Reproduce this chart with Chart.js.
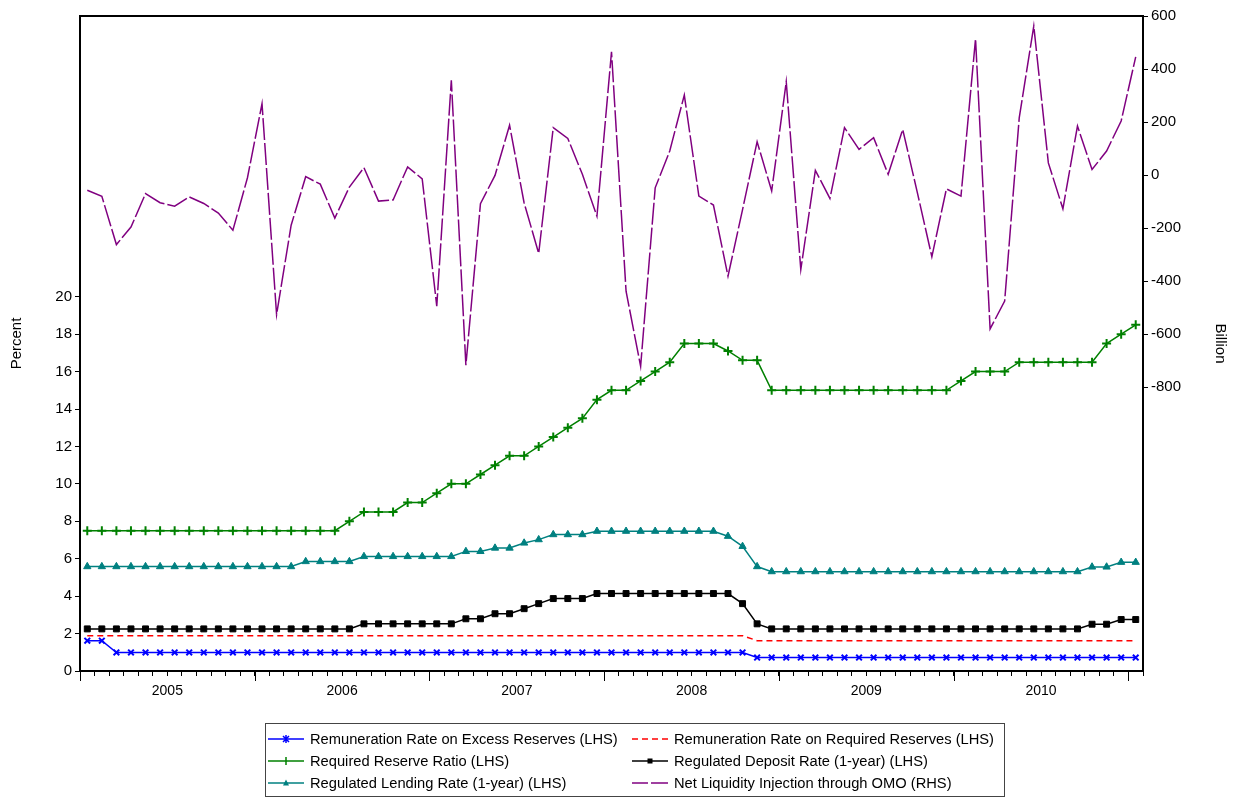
<!DOCTYPE html>
<html>
<head>
<meta charset="utf-8">
<script src="https://cdn.jsdelivr.net/npm/chart.js@4.4.0/dist/chart.umd.min.js"></script>
<style>
html, body { margin: 0; padding: 0; background: #fff; }
#wrap { position: relative; width: 1237px; height: 799px; }
#legend { position: absolute; left: 265px; top: 723px; width: 740px; height: 74px; border: 1.5px solid #444; box-sizing: border-box; font-family: "Liberation Sans", Arial, sans-serif; font-size: 14.7px; color: #000; }
.item { position: absolute; height: 20px; display: flex; align-items: center; white-space: nowrap; }
.item svg { margin-right: 6px; }
</style>
</head>
<body>
<div id="wrap">
  <canvas id="Grafico" width="1237" height="799"></canvas>
  <div id="legend"></div>
</div>
<script>
// anos exibidos no eixo x (dados mensais jan/2005 - jan/2011)
var anos = [2005, 2006, 2007, 2008, 2009, 2010, 2011];
var meses = [];
anos.forEach(function (a) {
    for (var m = 1; m <= 12; m++) {
        if (a === 2011 && m > 1) break;
        meses.push(a + 'M' + (m < 10 ? '0' + m : m));
    }
});

// series (LHS, percent)
var excessReserves = [
    1.62, 1.62, 0.99, 0.99, 0.99, 0.99, 0.99, 0.99, 0.99, 0.99, 0.99, 0.99,
    0.99, 0.99, 0.99, 0.99, 0.99, 0.99, 0.99, 0.99, 0.99, 0.99, 0.99, 0.99,
    0.99, 0.99, 0.99, 0.99, 0.99, 0.99, 0.99, 0.99, 0.99, 0.99, 0.99, 0.99,
    0.99, 0.99, 0.99, 0.99, 0.99, 0.99, 0.99, 0.99, 0.99, 0.99, 0.72, 0.72,
    0.72, 0.72, 0.72, 0.72, 0.72, 0.72, 0.72, 0.72, 0.72, 0.72, 0.72, 0.72,
    0.72, 0.72, 0.72, 0.72, 0.72, 0.72, 0.72, 0.72, 0.72, 0.72, 0.72, 0.72,
    0.72
];
var requiredReserves = [
    1.89, 1.89, 1.89, 1.89, 1.89, 1.89, 1.89, 1.89, 1.89, 1.89, 1.89, 1.89,
    1.89, 1.89, 1.89, 1.89, 1.89, 1.89, 1.89, 1.89, 1.89, 1.89, 1.89, 1.89,
    1.89, 1.89, 1.89, 1.89, 1.89, 1.89, 1.89, 1.89, 1.89, 1.89, 1.89, 1.89,
    1.89, 1.89, 1.89, 1.89, 1.89, 1.89, 1.89, 1.89, 1.89, 1.89, 1.62, 1.62,
    1.62, 1.62, 1.62, 1.62, 1.62, 1.62, 1.62, 1.62, 1.62, 1.62, 1.62, 1.62,
    1.62, 1.62, 1.62, 1.62, 1.62, 1.62, 1.62, 1.62, 1.62, 1.62, 1.62, 1.62,
    1.62
];
var reserveRatio = [
    7.5, 7.5, 7.5, 7.5, 7.5, 7.5, 7.5, 7.5, 7.5, 7.5, 7.5, 7.5,
    7.5, 7.5, 7.5, 7.5, 7.5, 7.5, 8.0, 8.5, 8.5, 8.5, 9.0, 9.0,
    9.5, 10.0, 10.0, 10.5, 11.0, 11.5, 11.5, 12.0, 12.5, 13.0, 13.5, 14.5,
    15.0, 15.0, 15.5, 16.0, 16.5, 17.5, 17.5, 17.5, 17.1, 16.6, 16.6, 15.0,
    15.0, 15.0, 15.0, 15.0, 15.0, 15.0, 15.0, 15.0, 15.0, 15.0, 15.0, 15.0,
    15.5, 16.0, 16.0, 16.0, 16.5, 16.5, 16.5, 16.5, 16.5, 16.5, 17.5, 18.0,
    18.5
];
var depositRate = [
    2.25, 2.25, 2.25, 2.25, 2.25, 2.25, 2.25, 2.25, 2.25, 2.25, 2.25, 2.25,
    2.25, 2.25, 2.25, 2.25, 2.25, 2.25, 2.25, 2.52, 2.52, 2.52, 2.52, 2.52,
    2.52, 2.52, 2.79, 2.79, 3.06, 3.06, 3.33, 3.60, 3.87, 3.87, 3.87, 4.14,
    4.14, 4.14, 4.14, 4.14, 4.14, 4.14, 4.14, 4.14, 4.14, 3.60, 2.52, 2.25,
    2.25, 2.25, 2.25, 2.25, 2.25, 2.25, 2.25, 2.25, 2.25, 2.25, 2.25, 2.25,
    2.25, 2.25, 2.25, 2.25, 2.25, 2.25, 2.25, 2.25, 2.25, 2.50, 2.50, 2.75,
    2.75
];
var lendingRate = [
    5.58, 5.58, 5.58, 5.58, 5.58, 5.58, 5.58, 5.58, 5.58, 5.58, 5.58, 5.58,
    5.58, 5.58, 5.58, 5.85, 5.85, 5.85, 5.85, 6.12, 6.12, 6.12, 6.12, 6.12,
    6.12, 6.12, 6.39, 6.39, 6.57, 6.57, 6.84, 7.02, 7.29, 7.29, 7.29, 7.47,
    7.47, 7.47, 7.47, 7.47, 7.47, 7.47, 7.47, 7.47, 7.20, 6.66, 5.58, 5.31,
    5.31, 5.31, 5.31, 5.31, 5.31, 5.31, 5.31, 5.31, 5.31, 5.31, 5.31, 5.31,
    5.31, 5.31, 5.31, 5.31, 5.31, 5.31, 5.31, 5.31, 5.31, 5.56, 5.56, 5.81,
    5.81
];
// RHS, billion
var liquidezOMO = [
    -57, -80, -262, -196, -70, -104, -117, -82, -107, -143, -208, -10,
    269, -526, -189, -6, -34, -162, -45, 28, -98, -94, 31, -14,
    -494, 358, -717, -108, -1, 188, -105, -295, 179, 138, 3, -155,
    465, -438, -721, -48, 91, 302, -79, -113, -381, -130, 126, -60,
    352, -356, 18, -88, 179, 97, 141, 3, 172, -65, -308, -52,
    -79, 514, -580, -475, 216, 562, 46, -127, 185, 21, 91, 204,
    446
];

var leftTicks = [0, 20];
var rightTicks = [-800, 600];

function pontos(serie) {
    return serie.map(function (v, i) { return { x: i, y: v }; });
}

var series = [
    { label: 'Remuneration Rate on Excess Reserves (LHS)', data: excessReserves, cor: '#0000ff', estilo: 'crossRot', raio: 4, dash: [], eixo: 'y' },
    { label: 'Remuneration Rate on Required Reserves (LHS)', data: requiredReserves, cor: '#ff0000', estilo: false, raio: 0, dash: [6, 4], eixo: 'y' },
    { label: 'Required Reserve Ratio (LHS)', data: reserveRatio, cor: '#008000', estilo: 'cross', raio: 4.5, dash: [], eixo: 'y' },
    { label: 'Regulated Deposit Rate (1-year) (LHS)', data: depositRate, cor: '#000000', estilo: 'rect', raio: 4.2, dash: [], eixo: 'y' },
    { label: 'Regulated Lending Rate (1-year) (LHS)', data: lendingRate, cor: '#008080', estilo: 'triangle', raio: 4.2, dash: [], eixo: 'y' },
    { label: 'Net Liquidity Injection through OMO (RHS)', data: liquidezOMO, cor: '#800080', estilo: false, raio: 0, dash: [22, 3], eixo: 'y1' }
];

var moldura = {
    id: 'moldura',
    afterDraw: function (chart) {
        var ctx = chart.ctx, a = chart.chartArea, xs = chart.scales.x;
        ctx.save();
        ctx.strokeStyle = '#000';
        ctx.lineWidth = 2;
        ctx.strokeRect(a.left, a.top, a.right - a.left, a.bottom - a.top);
        ctx.lineWidth = 1;
        for (var k = 0; k <= 6; k++) {
            var px = Math.round(xs.getPixelForValue(12 * k - 0.5)) + 0.5;
            ctx.beginPath();
            ctx.moveTo(px, a.bottom);
            ctx.lineTo(px, a.bottom + 10);
            ctx.stroke();
        }
        ctx.restore();
    }
};

var fonte = { family: '"Liberation Sans", Arial, sans-serif', size: 15 };

var ctx = document.getElementById('Grafico').getContext('2d');
var meuGrafico = new Chart(ctx, {
    type: 'line',
    data: {
        labels: meses,
        datasets: series.map(function (s) {
            return {
                label: s.label,
                data: pontos(s.data),
                yAxisID: s.eixo,
                borderColor: s.cor,
                backgroundColor: s.cor,
                borderWidth: 1.5,
                borderDash: s.dash,
                pointStyle: s.estilo,
                pointRadius: s.raio,
                pointBorderWidth: s.estilo === 'cross' || s.estilo === 'crossRot' ? 2 : 1,
                pointBorderColor: s.cor,
                pointBackgroundColor: s.cor,
                tension: 0,
                fill: false
            };
        })
    },
    plugins: [moldura],
    options: {
        responsive: false,
        animation: false,
        layout: { padding: { top: 16, right: 0, bottom: 88, left: 0 } },
        plugins: { legend: { display: false }, tooltip: { enabled: false } },
        scales: {
            x: {
                type: 'linear',
                min: -0.5,
                max: 72.5,
                afterFit: function (s) { s.height = 40; },
                afterBuildTicks: function (s) {
                    var t = [];
                    for (var k = 0; k <= 73; k++) t.push({ value: k - 0.5 });
                    s.ticks = t;
                },
                grid: { drawOnChartArea: false, tickLength: 5, color: '#000', lineWidth: 1 },
                border: { color: '#000', width: 2 },
                ticks: {
                    autoSkip: false,
                    maxRotation: 0,
                    padding: 7,
                    color: '#000',
                    font: { family: fonte.family, size: 14 },
                    callback: function (v) {
                        var n = Math.round(v + 0.5);
                        if (n % 12 === 6) return String(anos[(n - 6) / 12]);
                        return '';
                    }
                }
            },
            y: {
                position: 'left',
                min: 0,
                max: 35,
                afterFit: function (s) { s.width = 80; },
                grid: {
                    drawOnChartArea: false, tickLength: 5,
                    color: function (c) { return c.tick && c.tick.value <= leftTicks[1] ? '#000' : 'rgba(0,0,0,0)'; }
                },
                border: { color: '#000', width: 2 },
                ticks: {
                    stepSize: 2,
                    padding: 3,
                    color: '#000',
                    font: fonte,
                    callback: function (v) { return v >= leftTicks[0] && v <= leftTicks[1] ? String(v) : ''; }
                },
                title: { display: true, text: 'Percent', color: '#000', font: fonte, padding: { top: 8, bottom: 4 } }
            },
            y1: {
                position: 'right',
                min: -1870,
                max: 600,
                afterFit: function (s) { s.width = 94; },
                grid: {
                    drawOnChartArea: false, tickLength: 5,
                    color: function (c) { return c.tick && c.tick.value >= rightTicks[0] && c.tick.value % 200 === 0 ? '#000' : 'rgba(0,0,0,0)'; }
                },
                border: { color: '#000', width: 2 },
                ticks: {
                    stepSize: 200,
                    padding: 3,
                    color: '#000',
                    font: fonte,
                    callback: function (v) { return v >= rightTicks[0] && v <= rightTicks[1] && v % 200 === 0 ? String(v) : ''; }
                },
                title: { display: true, text: 'Billion', color: '#000', font: fonte, padding: { top: 8, bottom: 10 } }
            }
        }
    }
});

// legenda em HTML (caixa com 3 linhas x 2 colunas)
function amostra(s) {
    var svg = '<svg width="36" height="12" viewBox="0 0 36 12">';
    if (s.dash.length && s.estilo === false && s.cor === '#800080') {
        svg += '<line x1="0" y1="6" x2="16" y2="6" stroke="' + s.cor + '" stroke-width="1.5"/><line x1="19" y1="6" x2="36" y2="6" stroke="' + s.cor + '" stroke-width="1.5"/>';
    } else if (s.dash.length) {
        svg += '<line x1="0" y1="6" x2="36" y2="6" stroke="' + s.cor + '" stroke-width="1.5" stroke-dasharray="6,4"/>';
    } else {
        svg += '<line x1="0" y1="6" x2="36" y2="6" stroke="' + s.cor + '" stroke-width="1.5"/>';
    }
    if (s.estilo === 'crossRot') svg += '<path d="M15 3L21 9M21 3L15 9M18 2L18 10" stroke="' + s.cor + '" stroke-width="1.5"/>';
    if (s.estilo === 'cross') svg += '<path d="M18 2L18 10" stroke="' + s.cor + '" stroke-width="1.5"/>';
    if (s.estilo === 'rect') svg += '<rect x="15.5" y="3.5" width="5" height="5" fill="' + s.cor + '"/>';
    if (s.estilo === 'triangle') svg += '<path d="M18 2.5L21 8.5L15 8.5Z" fill="' + s.cor + '"/>';
    return svg + '</svg>';
}
var legenda = document.getElementById('legend');
series.forEach(function (s, i) {
    var col = i % 2, lin = Math.floor(i / 2);
    var d = document.createElement('div');
    d.className = 'item';
    d.style.left = (col === 0 ? 2 : 366) + 'px';
    d.style.top = (5 + lin * 22) + 'px';
    d.innerHTML = amostra(s) + '<span>' + s.label + '</span>';
    legenda.appendChild(d);
});
</script>
</body>
</html>
